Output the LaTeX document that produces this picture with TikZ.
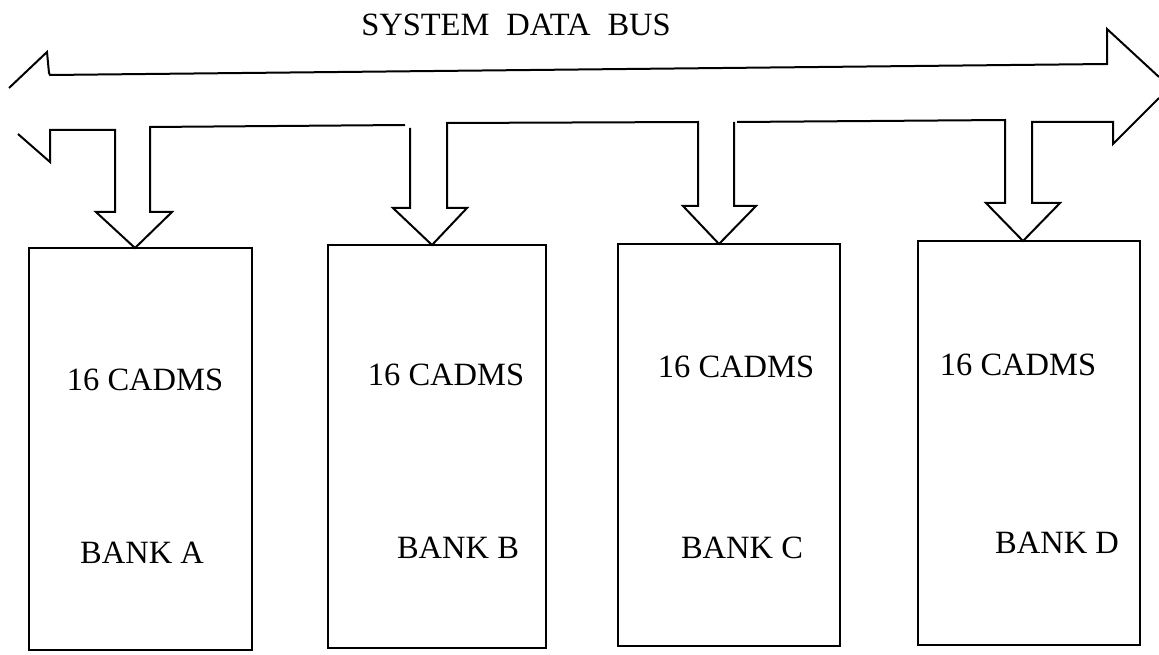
\documentclass[tikz,border=0pt]{standalone}
\usepackage{fontspec}
\setmainfont{Liberation Serif}
\begin{document}
\begin{tikzpicture}[x=1pt,y=-1pt,
  line width=2pt, line join=miter,
  bank/.style={draw, anchor=north west, inner sep=0pt, outer sep=0pt},
  lbl/.style={inner sep=0pt, font=\fontsize{32.5}{38}\selectfont},
  bus/.style={draw, line width=2pt}]
\useasboundingbox (0,0) rectangle (1159,655);
% title
\node[lbl] (title) at (516,25) {SYSTEM\hspace{17pt}DATA\hspace{17pt}BUS};
% banks
\node[bank, minimum width=223pt, minimum height=402pt] (A) at (29,248) {};
\node[bank, minimum width=218pt, minimum height=403pt] (B) at (328,245) {};
\node[bank, minimum width=222pt, minimum height=402pt] (C) at (618,244) {};
\node[bank, minimum width=222pt, minimum height=404pt] (D) at (918,241) {};
% labels
\node[lbl] (a1) at (145,380) {16 CADMS};
\node[lbl] (a2) at (142,553) {BANK A};
\node[lbl] (b1) at (446,375) {16 CADMS};
\node[lbl] (b2) at (458,548) {BANK B};
\node[lbl] (c1) at (736,367) {16 CADMS};
\node[lbl] (c2) at (742,548) {BANK C};
\node[lbl] (d1) at (1018,365) {16 CADMS};
\node[lbl] (d2) at (1057,543) {BANK D};
% tip x positions
\coordinate (xa) at (135,0);
\coordinate (xb) at (432,0);
\coordinate (xc) at (719,0);
\coordinate (xd) at (1023,0);
% upper edge of bus with arrowheads
\draw[bus] (9,88) -- (47,52) -- (49,73) -- (50,75) -- (1107,64) -- (1107,29) -- (1159,77);
% lower edge of bus with branches
\draw[bus] (18,134) -- (50,162) -- (50,130) -- (115,130) -- (115,212) -- (96,212)
  -- (A.north -| xa) -- (172,212) -- (150,212) -- (150,127) -- (405,125);
\draw[bus] (410,128) -- (410,208) -- (393,208) -- (B.north -| xb) -- (467,208)
  -- (447,208) -- (447,123) -- (698,122) -- (698,206) -- (683,206)
  -- (C.north -| xc) -- (756,206) -- (734,206) -- (734,122);
\draw[bus] (737,122) -- (1005,120) -- (1005,203) -- (986,203) -- (D.north -| xd)
  -- (1060,203) -- (1032,203) -- (1032,122) -- (1113,122) -- (1113,144) -- (1159,98);
\end{tikzpicture}
\end{document}
